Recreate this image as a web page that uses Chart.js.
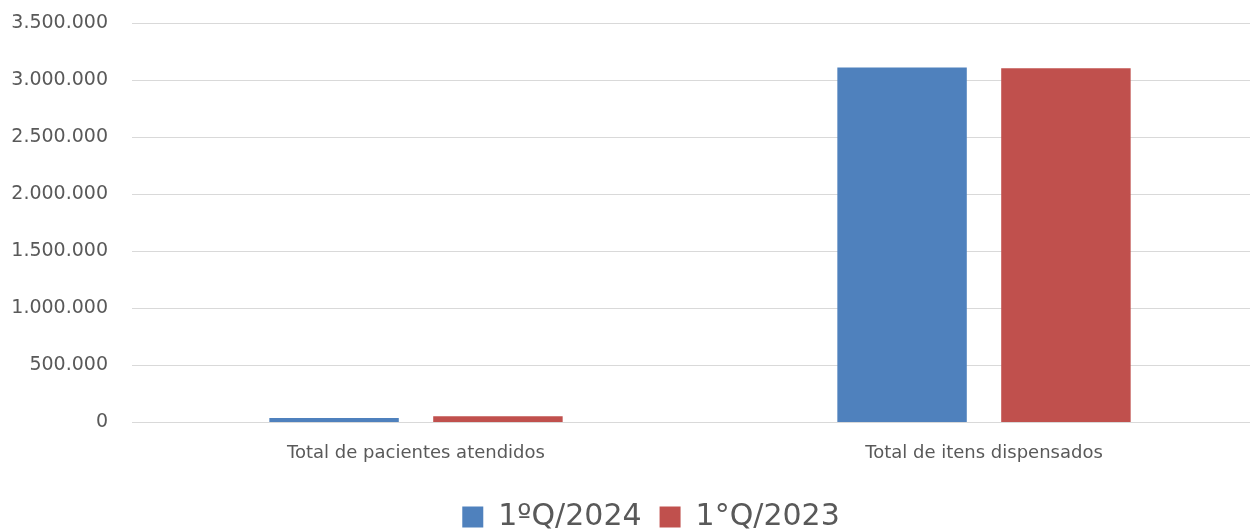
<!DOCTYPE html>
<html>
<head>
<meta charset="utf-8">
<script src="https://cdn.jsdelivr.net/npm/chart.js@4/dist/chart.umd.min.js"></script>
<style>
  html, body { margin: 0; padding: 0; background: #fff; overflow: hidden; }
  #wrap { width: 1302px; height: 530px; }
</style>
</head>
<body>
<div id="wrap"><canvas id="grafico"></canvas></div>
<script>
// categorias e valores
const categorias = ["Total de pacientes atendidos", "Total de itens dispensados"];
const serie2024 = [38000, 3111000];
const serie2023 = [53000, 3103000];
const rotulos = ["1ºQ/2024", "1°Q/2023"];

// formato com ponto como separador de milhar
const fmt = (v) => String(Math.round(v)).replace(/\B(?=(\d{3})+(?!\d))/g, ".");

const fonte = "'DejaVu Sans', sans-serif";
const cinza = "#595959";

// eixo vazio, só para reservar espaço
const vazio = (w, pos, peso) => ({
  position: pos,
  weight: peso,
  grid: { display: false, drawTicks: false },
  border: { display: false },
  ticks: { display: false },
  afterFit: (s) => { s.width = w; },
});

const ctx = document.getElementById("grafico");
new Chart(ctx, {
  type: "bar",
  data: {
    labels: categorias,
    datasets: [
      { label: rotulos[0], data: serie2024, backgroundColor: "#4F81BD" },
      { label: rotulos[1], data: serie2023, backgroundColor: "#C0504D" },
    ],
  },
  options: {
    responsive: true,
    maintainAspectRatio: false,
    animation: false,
    categoryPercentage: 0.577,
    barPercentage: 0.79,
    layout: { padding: { top: 23, left: 0, right: 0, bottom: -12 } },
    plugins: {
      tooltip: { enabled: false },
      legend: {
        position: "bottom",
        labels: {
          color: cinza,
          font: { family: fonte, size: 30 },
          boxWidth: 21,
          boxHeight: 21,
          padding: 18,
        },
      },
    },
    scales: {
      x: {
        grid: { display: false, drawTicks: false },
        border: { display: false },
        ticks: { color: cinza, font: { family: fonte, size: 18 }, padding: 20 },
      },
      y: {
        weight: 1,
        min: 0,
        max: 3500000,
        grid: { color: "#d9d9d9", lineWidth: 1, drawTicks: false },
        border: { display: false },
        ticks: {
          stepSize: 500000,
          color: cinza,
          font: { family: fonte, size: 19 },
          padding: 0,
          callback: (v) => fmt(v),
        },
        afterFit: (s) => { s.width = 108; },
      },
      yg: vazio(24, "left", 0),
      y2: vazio(34, "right", 0),
    },
  },
});
</script>
</body>
</html>
